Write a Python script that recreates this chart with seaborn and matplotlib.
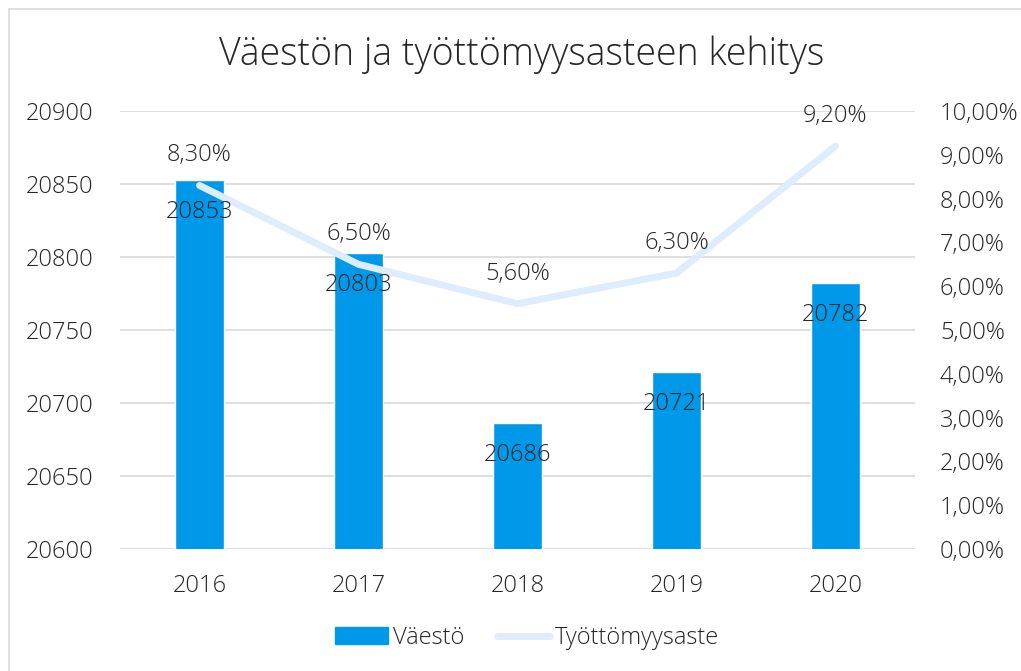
import numpy as np
import pandas as pd
import matplotlib
matplotlib.use('Agg')
import matplotlib.pyplot as plt
import seaborn as sns
from matplotlib.patches import Rectangle
from matplotlib.lines import Line2D
from matplotlib.ticker import FuncFormatter

years = ["2016", "2017", "2018", "2019", "2020"]
population = [20853, 20803, 20686, 20721, 20782]
unemployment = [8.30, 6.50, 5.60, 6.30, 9.20]

BAR_COLOR = "#0098E9"
LINE_COLOR = "#DDEDFD"
TEXT_COLOR = "#262626"
FS = 17

sns.set_theme(style="white")
plt.rcParams['font.family'] = ['Open Sans', 'DejaVu Sans']
plt.rcParams['font.weight'] = 'light'

df = pd.DataFrame({"year": years, "pop": population, "rate": unemployment})

fig = plt.figure(figsize=(10.21, 6.71), dpi=100)
ax = fig.add_axes([120 / 1021, 1 - 549 / 671, 795 / 1021, 438 / 671])

# chart border (only left and top edges are visible in the crop)
fig.patches.append(Rectangle((9 / 1021, -20 / 671), 1040 / 1021, 682 / 671,
                             transform=fig.transFigure, fill=False,
                             edgecolor="#D9D9D9", linewidth=1.2))

sns.barplot(data=df, x="year", y="pop", color=BAR_COLOR, width=0.31,
            saturation=1, ax=ax, zorder=2)
ax.set_ylim(20600, 20900)
ax.set_yticks(np.arange(20600, 20901, 50))
ax.set_xlim(-0.5, 4.5)
ax.grid(axis="y", color="#D9D9D9", linewidth=1.2, zorder=0)
ax.set_axisbelow(True)
for s in ax.spines.values():
    s.set_visible(False)
ax.set_xlabel("")
ax.set_ylabel("")
ax.tick_params(axis="both", length=0, labelsize=FS, labelcolor=TEXT_COLOR)
ax.tick_params(axis="x", pad=18)
ax.tick_params(axis="y", pad=19)

ax2 = ax.twinx()
sns.lineplot(data=df, x="year", y="rate", color=LINE_COLOR, linewidth=5,
             ax=ax2, zorder=3, solid_capstyle="round", solid_joinstyle="round")
ax2.set_ylim(0, 10)
ax2.set_yticks(np.arange(0, 10.01, 1))
ax2.yaxis.set_major_formatter(FuncFormatter(lambda v, p: f"{v:.2f}%".replace(".", ",")))
ax2.tick_params(axis="y", length=0, labelsize=FS, labelcolor=TEXT_COLOR, pad=18)
for s in ax2.spines.values():
    s.set_visible(False)
ax2.set_ylabel("")
ax2.set_xlabel("")

for i, v in enumerate(unemployment):
    ax2.annotate(f"{v:.2f}%".replace(".", ","), (i, v), xytext=(0, 30),
                 textcoords="offset pixels", ha="center", va="center",
                 fontsize=FS, color=TEXT_COLOR)

# bar labels drawn on the top axes so they sit above the line
for i, v in enumerate(population):
    ax2.annotate(str(v), (i, v), xycoords=("data", ax.transData), xytext=(0, -32),
                 textcoords="offset pixels", ha="center", va="center",
                 fontsize=FS, color=TEXT_COLOR)

fig.text(522 / 1021, 1 - 55 / 671, "Väestön ja työttömyysasteen kehitys", ha="center",
         va="center", fontsize=27, color=TEXT_COLOR)

handles = [Rectangle((0, 0), 1, 1, color=BAR_COLOR),
           Line2D([0], [0], color=LINE_COLOR, linewidth=5, solid_capstyle="round")]
fig.legend(handles, ["Väestö", "Työttömyysaste"], loc="center",
           bbox_to_anchor=(527 / 1021, 1 - 638 / 671), ncol=2, frameon=False,
           fontsize=FS, handlelength=2.25, columnspacing=1.4, handletextpad=0.2)

fig.savefig("out.png", dpi=100)
